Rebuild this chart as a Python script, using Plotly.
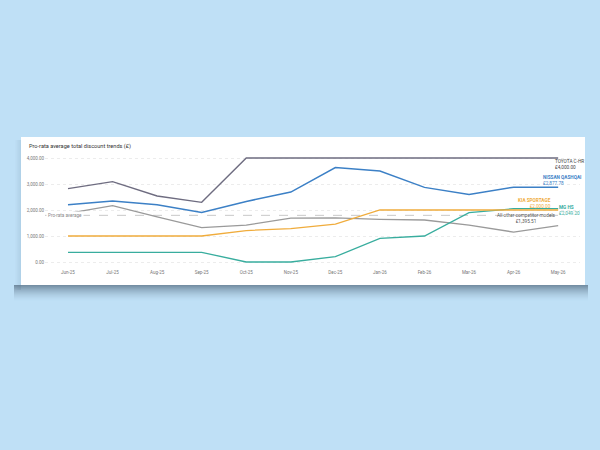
import plotly.graph_objects as go

months = ["Jun-25", "Jul-25", "Aug-25", "Sep-25", "Oct-25", "Nov-25",
          "Dec-25", "Jan-26", "Feb-26", "Mar-26", "Apr-26", "May-26"]

toyota_chr = [2820, 3090, 2540, 2295, 4000, 4000, 4000, 4000, 4000, 4000, 4000, 4000]
nissan_qashqai = [2205, 2345, 2205, 1900, 2330, 2690, 3630, 3500, 2870, 2600, 2877.78, 2877.78]
kia_sportage = [1000, 1000, 1000, 1000, 1210, 1285, 1460, 2000, 2000, 2000, 2000, 2000]
mg_hs = [372, 372, 372, 372, 0, 0, 205, 910, 1000, 1900, 2049.20, 2049.20]
all_other = [1870, 2165, 1740, 1320, 1420, 1690, 1700, 1640, 1615, 1420, 1150, 1395.51]
pro_rata_avg = 1795

C_TOY = "#6e6c80"
C_NIS = "#3c80c6"
C_KIA = "#f0ac3c"
C_MG = "#38ad9e"
C_OTH = "#9a9a9a"

fig = go.Figure()
fig.add_trace(go.Scatter(x=months, y=all_other, mode="lines", line=dict(color=C_OTH, width=1.3)))
fig.add_trace(go.Scatter(x=months, y=mg_hs, mode="lines", line=dict(color=C_MG, width=1.3)))
fig.add_trace(go.Scatter(x=months, y=kia_sportage, mode="lines", line=dict(color=C_KIA, width=1.3)))
fig.add_trace(go.Scatter(x=months, y=nissan_qashqai, mode="lines", line=dict(color=C_NIS, width=1.5)))
fig.add_trace(go.Scatter(x=months, y=toyota_chr, mode="lines", line=dict(color=C_TOY, width=1.4)))

# plot area in pixels: x 45..580, y 150..268
L, R, T, B = 45, 580, 150, 268
W, H = R - L, B - T
def px(x):
    return (x - L) / W
def py(y):
    return (B - y) / H

shapes = []
# soft left shadow
for i in range(6):
    a = 0.10 * (1 - i / 6)
    shapes.append(dict(type="rect", xref="paper", yref="paper", layer="below",
                       x0=px(21 - i - 1), x1=px(21 - i), y0=py(290), y1=py(140),
                       fillcolor=f"rgba(50,80,110,{a:.3f})", line=dict(width=0)))
# bottom shadow band (gradient)
for i in range(16):
    a = 0.55 * (1 - i / 16) ** 1.6
    shapes.append(dict(type="rect", xref="paper", yref="paper", layer="below",
                       x0=px(14), x1=px(588), y0=py(285 + i + 1), y1=py(285 + i),
                       fillcolor=f"rgba(55,75,95,{a:.3f})", line=dict(width=0)))
shapes.append(dict(type="rect", xref="paper", yref="paper", layer="below",
                   x0=px(21), x1=px(585), y0=py(285), y1=py(137),
                   fillcolor="white", line=dict(width=0)))
# pro-rata average dashed line
shapes.append(dict(type="line", xref="paper", yref="y", layer="below",
                   x0=px(45), x1=px(565), y0=pro_rata_avg, y1=pro_rata_avg,
                   line=dict(color="#c8c8c8", width=1, dash="dash")))

fnt = "Roboto, Arial, sans-serif"
ann = []
ann.append(dict(xref="paper", yref="paper", x=px(27), y=py(146), xanchor="left", yanchor="middle",
                text="Pro-rata average total discount trends (£)", showarrow=False,
                font=dict(size=5.6, color="#333333", family=fnt)))
ann.append(dict(xref="paper", yref="y", x=px(46), y=pro_rata_avg, xanchor="left", yanchor="middle",
                text="Pro-rata average", showarrow=False, bgcolor="white",
                font=dict(size=4.6, color="#888888", family=fnt)))

def lab(x0, y0, text, color, align, xanchor):
    ann.append(dict(xref="paper", yref="paper", x=px(x0), y=py(y0), xanchor=xanchor, yanchor="middle",
                    text=text, showarrow=False, align=align,
                    font=dict(size=4.7, color=color, family=fnt)))

lab(553, 164.5, "TOYOTA C-HR<br>£4,000.00", "#444444", "left", "left")
lab(584, 180.5, "<b>NISSAN QASHQAI</b><br>£2,877.78", C_NIS, "left", "right")
lab(553, 203.5, "<b>KIA SPORTAGE</b><br>£2,000.00", C_KIA, "right", "right")
lab(557, 210, "<b>MG HS</b><br>£2,049.20", C_MG, "left", "left")
lab(526, 218.5, "All other competitor models<br>£1,395.51", "#555555", "center", "center")

fig.update_layout(
    width=600, height=450,
    margin=dict(l=L, r=600 - R, t=T, b=450 - B, pad=0),
    paper_bgcolor="#bfe0f6",
    plot_bgcolor="rgba(0,0,0,0)",
    showlegend=False,
    shapes=shapes,
    annotations=ann,
    font=dict(family=fnt),
)
fig.update_xaxes(range=[-0.516, 11.49], showgrid=False, zeroline=False, showline=False,
                 tickfont=dict(size=4.5, color="#777777"), ticks="")
fig.update_yaxes(range=[-(268 - 262) / 26 * 1000, (262 - 150) / 26 * 1000],
                 tickvals=[0, 1000, 2000, 3000, 4000], tickformat=",.2f",
                 showgrid=True, gridcolor="#ececec", griddash="dot", gridwidth=0.8,
                 zeroline=False, showline=False, ticks="",
                 tickfont=dict(size=4.5, color="#777777"))

fig.write_html("out.html")
